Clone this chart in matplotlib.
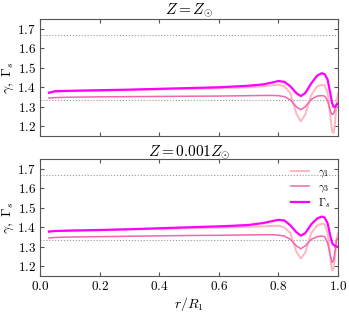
import matplotlib
matplotlib.use("Agg")
import matplotlib.pyplot as plt
from matplotlib.ticker import FuncFormatter, MultipleLocator

plt.rcParams["mathtext.fontset"] = "cm"
plt.rcParams["font.family"] = "serif"
plt.rcParams["font.serif"] = ["DejaVu Serif"]

# ---------------------------------------------------------------- data -----
r = [0.03, 0.05, 0.1, 0.2, 0.3, 0.4, 0.5, 0.6, 0.65, 0.7, 0.75, 0.78, 0.80,
     0.82, 0.84, 0.86, 0.875, 0.89, 0.91, 0.93, 0.945, 0.955, 0.965, 0.975,
     0.98, 0.985, 0.99, 0.995, 1.0]

# Z = Z_sun
gs_top = [1.372, 1.380, 1.382, 1.385, 1.388, 1.392, 1.396, 1.400, 1.404, 1.408,
          1.415, 1.425, 1.432, 1.428, 1.405, 1.370, 1.355, 1.370, 1.420, 1.460,
          1.472, 1.468, 1.440, 1.360, 1.320, 1.300, 1.300, 1.310, 1.315]
g3_top = [1.345, 1.347, 1.349, 1.351, 1.352, 1.353, 1.354, 1.355, 1.356, 1.357,
          1.358, 1.358, 1.357, 1.352, 1.335, 1.300, 1.285, 1.300, 1.338, 1.355,
          1.357, 1.355, 1.330, 1.275, 1.260, 1.265, 1.290, 1.315, 1.320]
g1_top = [1.372, 1.377, 1.380, 1.383, 1.386, 1.389, 1.392, 1.395, 1.397, 1.400,
          1.405, 1.410, 1.413, 1.405, 1.370, 1.265, 1.225, 1.260, 1.360, 1.405,
          1.412, 1.410, 1.370, 1.240, 1.175, 1.165, 1.220, 1.320, 1.370]

# Z = 0.001 Z_sun
gs_bot = [1.378, 1.381, 1.383, 1.386, 1.390, 1.395, 1.400, 1.405, 1.408, 1.412,
          1.422, 1.432, 1.438, 1.435, 1.410, 1.375, 1.357, 1.370, 1.415, 1.445,
          1.455, 1.450, 1.420, 1.350, 1.320, 1.310, 1.305, 1.302, 1.300]
g3_bot = [1.345, 1.348, 1.350, 1.352, 1.354, 1.356, 1.358, 1.359, 1.360, 1.361,
          1.362, 1.362, 1.360, 1.355, 1.338, 1.305, 1.290, 1.305, 1.338, 1.352,
          1.355, 1.352, 1.320, 1.250, 1.220, 1.230, 1.280, 1.335, 1.345]
g1_bot = [1.378, 1.381, 1.383, 1.386, 1.389, 1.392, 1.395, 1.398, 1.400, 1.402,
          1.405, 1.407, 1.408, 1.400, 1.370, 1.275, 1.240, 1.270, 1.370, 1.410,
          1.418, 1.415, 1.370, 1.230, 1.180, 1.185, 1.250, 1.340, 1.370]

titles = [r"$Z = Z_{\odot}$", r"$Z = 0.001Z_{\odot}$"]
panels = [(g1_top, g3_top, gs_top), (g1_bot, g3_bot, gs_bot)]

C_G1 = "#FFB6C1"
C_G3 = "#F564AE"
C_GS = "#FF00FF"

fig = plt.figure(figsize=(3.49, 3.13), dpi=100)
ax_top = fig.add_axes([0.1146, 0.5655, 0.854, 0.3735])
ax_bot = fig.add_axes([0.1146, 0.118, 0.854, 0.374])

fmt = FuncFormatter(lambda v, p: f"${v:.1f}$")

for ax, (g1, g3, gs), title in zip([ax_top, ax_bot], panels, titles):
    ax.axhline(5 / 3, color="#999999", ls=":", lw=0.8)
    ax.axhline(4 / 3, color="#999999", ls=":", lw=0.8)
    ax.plot(r, g1, color=C_G1, lw=1.4, label=r"$\gamma_1$")
    ax.plot(r, g3, color=C_G3, lw=1.1, label=r"$\gamma_3$")
    ax.plot(r, gs, color=C_GS, lw=1.6, label=r"$\Gamma_s$")
    ax.set_xlim(0, 1.0)
    ax.set_ylim(1.15, 1.75)
    ax.xaxis.set_major_locator(MultipleLocator(0.2))
    ax.yaxis.set_major_locator(MultipleLocator(0.1))
    ax.xaxis.set_major_formatter(fmt)
    ax.yaxis.set_major_formatter(fmt)
    ax.tick_params(direction="in", top=True, right=True, labelsize=9.5,
                   color="#555555", length=3, pad=3)
    for sp in ax.spines.values():
        sp.set_color("#555555")
    ax.set_ylabel(r"$\gamma,\ \Gamma_s$", fontsize=10)
    ax.yaxis.set_label_coords(-0.082, 0.5)
    ax.set_title(title, fontsize=11, pad=2)

ax_top.tick_params(labelbottom=False)
ax_bot.set_xlabel(r"$r/R_1$", fontsize=10, labelpad=1)
ax_bot.legend(loc="upper right", fontsize=8, frameon=False, handlelength=1.6,
              labelspacing=0.2, borderaxespad=0.3)

fig.savefig("out.png", dpi=100)
